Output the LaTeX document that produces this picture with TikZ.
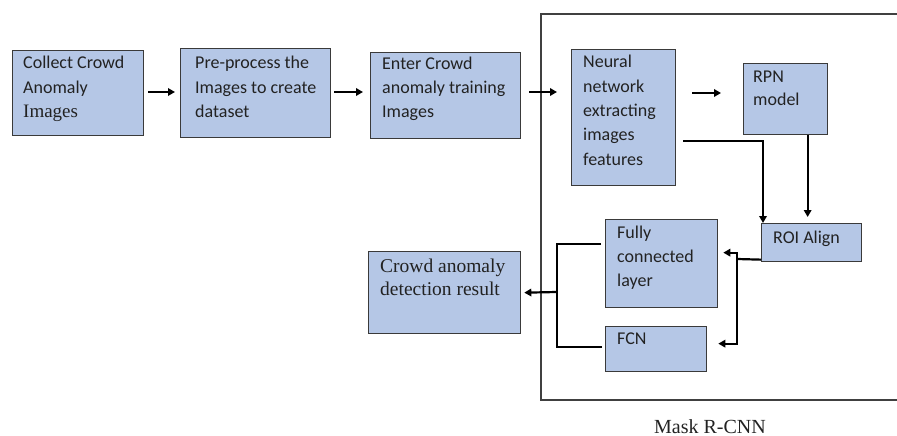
\documentclass[tikz,border=0pt]{standalone}
\usepackage{fontspec}
\setmainfont{Carlito}
\newfontfamily\timesfont{Liberation Serif}
\usetikzlibrary{arrows.meta}
\definecolor{boxfill}{HTML}{B5C7E6}
\definecolor{boxline}{HTML}{3A3A3A}
\definecolor{inkgray}{HTML}{222222}
% multi-line text whose reference point is the first baseline
\newcommand\stacked[2]{{\fontsize{18}{#1}\selectfont\begin{tabular}[t]{@{}l@{}}#2\end{tabular}}}
\newcommand\serifstacked[2]{{\timesfont\fontsize{19.5}{#1}\selectfont\begin{tabular}[t]{@{}l@{}}#2\end{tabular}}}
\begin{document}
\begin{tikzpicture}[x=1pt,y=-1pt,
  box/.style={draw=boxline, line width=1.3pt, fill=boxfill, inner sep=0pt, anchor=north west},
  label/.style={anchor=base west, inner sep=0pt, text=inkgray},
  conn/.style={draw=black, line width=2.2pt},
  arr/.style={conn, -{Triangle[length=7pt,width=7.5pt]}},
  frame/.style={draw=black!75, line width=1.4pt}]
\useasboundingbox (0,0) rectangle (897,436);

% Mask R-CNN frame (open to the right)
\draw[frame] (897,14) -- (541,14) -- (541,400) -- (897,400);
\node[anchor=base, inner sep=0pt, text=inkgray] (mrcnn) at (710,433)
  {\timesfont\fontsize{20}{24}\selectfont Mask R-CNN};

% boxes
\node[box, minimum width=131pt, minimum height=85pt] (b1)  at (12,50)  {};
\node[box, minimum width=150pt, minimum height=89pt] (b2)  at (180,48) {};
\node[box, minimum width=150pt, minimum height=86pt] (b3)  at (370,52) {};
\node[box, minimum width=104pt, minimum height=136pt] (nn) at (571,49) {};
\node[box, minimum width=84pt,  minimum height=71pt] (rpn) at (743,63) {};
\node[box, minimum width=100pt, minimum height=38pt] (roi) at (761,223) {};
\node[box, minimum width=112pt, minimum height=88pt] (fc)  at (605,219) {};
\node[box, minimum width=101pt, minimum height=45pt] (fcn) at (605,326) {};
\node[box, minimum width=152pt, minimum height=82pt] (out) at (368,251) {};

% box texts
\node[label] (t1) at (23,69) {\stacked{24.5}{Collect Crowd\\Anomaly\\\timesfont\fontsize{19}{24}\selectfont Images}};
\node[label] (t2) at (195,69) {\stacked{24.5}{Pre-process the\\Images to create\\dataset}};
\node[label] (t3) at (382,70) {\stacked{24}{Enter Crowd\\anomaly training\\Images}};
\node[label] (t4) at (583,68) {\stacked{24.3}{Neural\\network\\extracting\\images\\features}};
\node[label] (t5) at (753,82) {\stacked{24}{RPN\\model}};
\node[label] (t6) at (773,243) {\stacked{24}{ROI Align}};
\node[label] (t7) at (617,238) {\stacked{24}{Fully\\connected\\layer}};
\node[label] (t8) at (617,344) {\stacked{24}{FCN}};
\node[label] (t9) at (380,272) {\serifstacked{23}{Crowd anomaly\\detection result}};

% main flow, all on one horizontal line
\coordinate (flow) at (0,92);
\draw[arr] ([xshift=4pt]b1.east |- flow) -- ([xshift=-5pt]b2.west |- flow);
\draw[arr] ([xshift=3pt]b2.east |- flow) -- ([xshift=-7pt]b3.west |- flow);
\draw[arr] ([xshift=8pt]b3.east |- flow) -- ([xshift=-14pt]nn.west |- flow);
\draw[arr] ([xshift=16pt]nn.east |- 0,93) -- ([xshift=-22pt]rpn.west |- 0,93);

% into ROI Align
\draw[arr] ([xshift=22pt]rpn.south) -- ([shift={(22pt,6pt)}]rpn.south |- roi.north);
\draw[arr] ([shift={(7pt,-23pt)}]nn.east) -| ([xshift=2pt]roi.north west);

% ROI Align to the two heads
\coordinate (sp) at (737,259);
\draw[conn] ([yshift=-17pt]roi.west) -- (sp);
\draw[arr] (sp) |- ([shift={(5pt,11pt)}]fc.east);
\draw[arr] (sp) |- ([shift={(11pt,5.5pt)}]fcn.east);

% heads merge into the result
\coordinate (mg) at (557,292);
\draw[conn] ([shift={(-4pt,20pt)}]fc.west) -| (mg);
\draw[conn] ([shift={(-3pt,2.5pt)}]fcn.west) -| (mg);
\draw[arr] (mg) -- ([xshift=3pt]out.east);
\end{tikzpicture}
\end{document}
